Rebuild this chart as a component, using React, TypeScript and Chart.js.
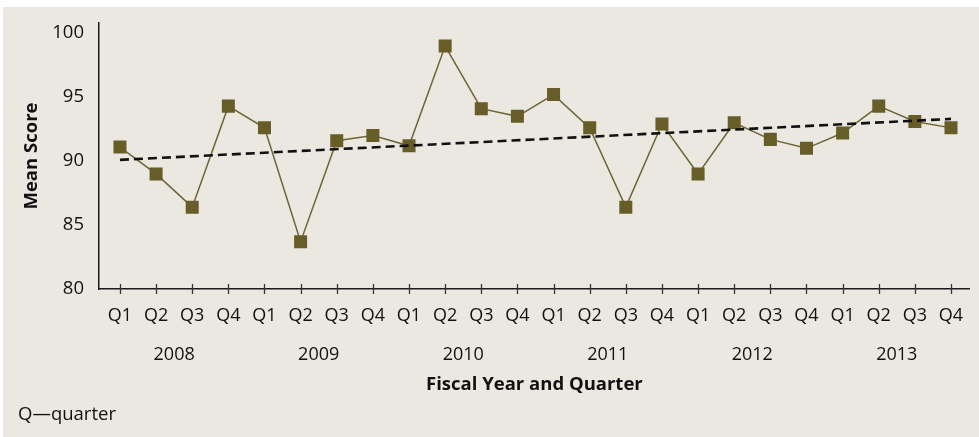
import React, { useEffect, useRef } from "react";
import { Chart, registerables } from "chart.js";

Chart.register(...registerables);

const quarterLabels = [
  "Q1", "Q2", "Q3", "Q4",
  "Q1", "Q2", "Q3", "Q4",
  "Q1", "Q2", "Q3", "Q4",
  "Q1", "Q2", "Q3", "Q4",
  "Q1", "Q2", "Q3", "Q4",
  "Q1", "Q2", "Q3", "Q4",
];
const yearLabels = ["2008", "2009", "2010", "2011", "2012", "2013"];
const meanScores = [
  91.1, 89.0, 86.4, 94.3,
  92.6, 83.7, 91.6, 92.0,
  91.2, 99.0, 94.1, 93.5,
  95.2, 92.6, 86.4, 92.9,
  89.0, 93.0, 91.7, 91.0,
  92.2, 94.3, 93.1, 92.6,
];
const trendStart = 90.1;
const trendEnd = 93.3;
const yTicks = [80, 85, 90, 95, 100];

const FONT = "'Open Sans', 'Noto Sans', sans-serif";
const TEXT = "#111111";
const BEIGE = "#EBE8E2";
const OLIVE = "#675D29";

const tickMarks = {
  id: "tickMarks",
  afterDraw(chart: any) {
    const xs = chart.scales.x;
    const ctx = chart.ctx;
    const y = chart.chartArea.bottom;
    ctx.save();
    ctx.strokeStyle = "#333";
    ctx.lineWidth = 1.3;
    quarterLabels.forEach((_, i) => {
      const px = Math.round(xs.getPixelForValue(i)) + 0.5;
      ctx.beginPath();
      ctx.moveTo(px, y - 5);
      ctx.lineTo(px, y + 5);
      ctx.stroke();
    });
    ctx.restore();
  },
};

export default function App() {
  const ref = useRef<HTMLCanvasElement | null>(null);

  useEffect(() => {
    if (!ref.current) return;
    const points = meanScores.map((v, i) => ({ x: i, y: v }));
    const trend = [
      { x: 0, y: trendStart },
      { x: quarterLabels.length - 1, y: trendEnd },
    ];
    const yearPositions = yearLabels.map((_, k) => {
      const idx = quarterLabels.map((_, i) => i).filter((i) => Math.floor(i / 4) === k);
      return idx.reduce((a, b) => a + b, 0) / idx.length;
    });

    const chart = new Chart(ref.current, {
      type: "line",
      data: {
        datasets: [
          {
            label: "Trend",
            data: trend,
            borderColor: "#111",
            borderWidth: 2.6,
            borderDash: [9, 5],
            pointRadius: 0,
            fill: false,
            order: 0,
          },
          {
            label: "Mean Score",
            data: points,
            borderColor: "#6E6535",
            borderWidth: 1.5,
            pointStyle: "rect",
            pointRadius: 9.2,
            pointBackgroundColor: OLIVE,
            pointBorderWidth: 0,
            pointBorderColor: OLIVE,
            fill: false,
            order: 1,
          },
        ],
      },
      options: {
        animation: false,
        responsive: false,
        maintainAspectRatio: false,
        layout: { padding: { top: 16, right: 6, bottom: 33, left: 0 } },
        plugins: {
          legend: { display: false },
          tooltip: { enabled: false },
        },
        scales: {
          x: {
            type: "linear",
            position: "bottom",
            weight: 0,
            min: -0.58,
            max: 23.52,
            grid: { display: false, drawTicks: false },
            border: { display: true, color: "#1a1a1a", width: 1.5 },
            afterBuildTicks: (s: any) => {
              s.ticks = quarterLabels.map((_, i) => ({ value: i }));
            },
            afterFit: (s: any) => {
              s.height = 45;
              s.paddingLeft = 0;
              s.paddingRight = 0;
            },
            ticks: {
              autoSkip: false,
              maxRotation: 0,
              padding: 16,
              color: TEXT,
              font: { family: FONT, size: 18 },
              callback: (v: any) => quarterLabels[Math.round(v)] ?? "",
            },
          },
          x2: {
            type: "linear",
            position: "bottom",
            weight: 1,
            min: -0.58,
            max: 23.52,
            grid: { display: false, drawTicks: false },
            border: { display: false },
            afterBuildTicks: (s: any) => {
              s.ticks = yearPositions.map((p) => ({ value: p }));
            },
            afterFit: (s: any) => {
              s.height = 70;
              s.paddingLeft = 0;
              s.paddingRight = 0;
            },
            ticks: {
              autoSkip: false,
              maxRotation: 0,
              padding: 10,
              color: TEXT,
              font: { family: FONT, size: 18 },
              callback: (v: any) => {
                const k = yearPositions.findIndex((p) => Math.abs(p - v) < 0.01);
                return k >= 0 ? yearLabels[k] : "";
              },
            },
            title: {
              display: true,
              text: "Fiscal Year and Quarter",
              color: TEXT,
              font: { family: FONT, size: 18.5, weight: "bold" },
              padding: { top: 0, bottom: 8 },
            },
          },
          y: {
            type: "linear",
            position: "left",
            min: 80,
            max: 100.8,
            grid: { display: false, drawTicks: false },
            border: { display: true, color: "#1a1a1a", width: 1.5 },
            afterBuildTicks: (s: any) => {
              s.ticks = yTicks.map((v) => ({ value: v }));
            },
            afterFit: (s: any) => {
              s.width = 99;
              s.paddingTop = 0;
              s.paddingBottom = 0;
            },
            ticks: {
              padding: 15,
              color: TEXT,
              font: { family: FONT, size: 18.5 },
            },
            title: {
              display: true,
              text: "Mean Score",
              color: TEXT,
              font: { family: FONT, size: 18.5, weight: "bold" },
              padding: { top: 21, bottom: 0 },
            },
          },
        },
      },
      plugins: [tickMarks],
    } as any);

    return () => chart.destroy();
  }, []);

  return (
    <div
      style={{
        position: "fixed",
        left: 0,
        top: 0,
        width: 979,
        height: 437,
        background: "#ffffff",
        overflow: "hidden",
      }}
    >
      <div
        style={{
          position: "absolute",
          left: 3,
          top: 7,
          width: 976,
          height: 430,
          background: BEIGE,
        }}
      />
      <canvas
        ref={ref}
        width={979}
        height={430}
        style={{ position: "absolute", left: 0, top: 7, width: 979, height: 430 }}
      />
      <div
        style={{
          position: "absolute",
          left: 18,
          top: 404,
          fontFamily: FONT,
          fontSize: 18.5,
          lineHeight: "18.5px",
          color: TEXT,
          whiteSpace: "nowrap",
        }}
      >
        Q—quarter
      </div>
    </div>
  );
}
